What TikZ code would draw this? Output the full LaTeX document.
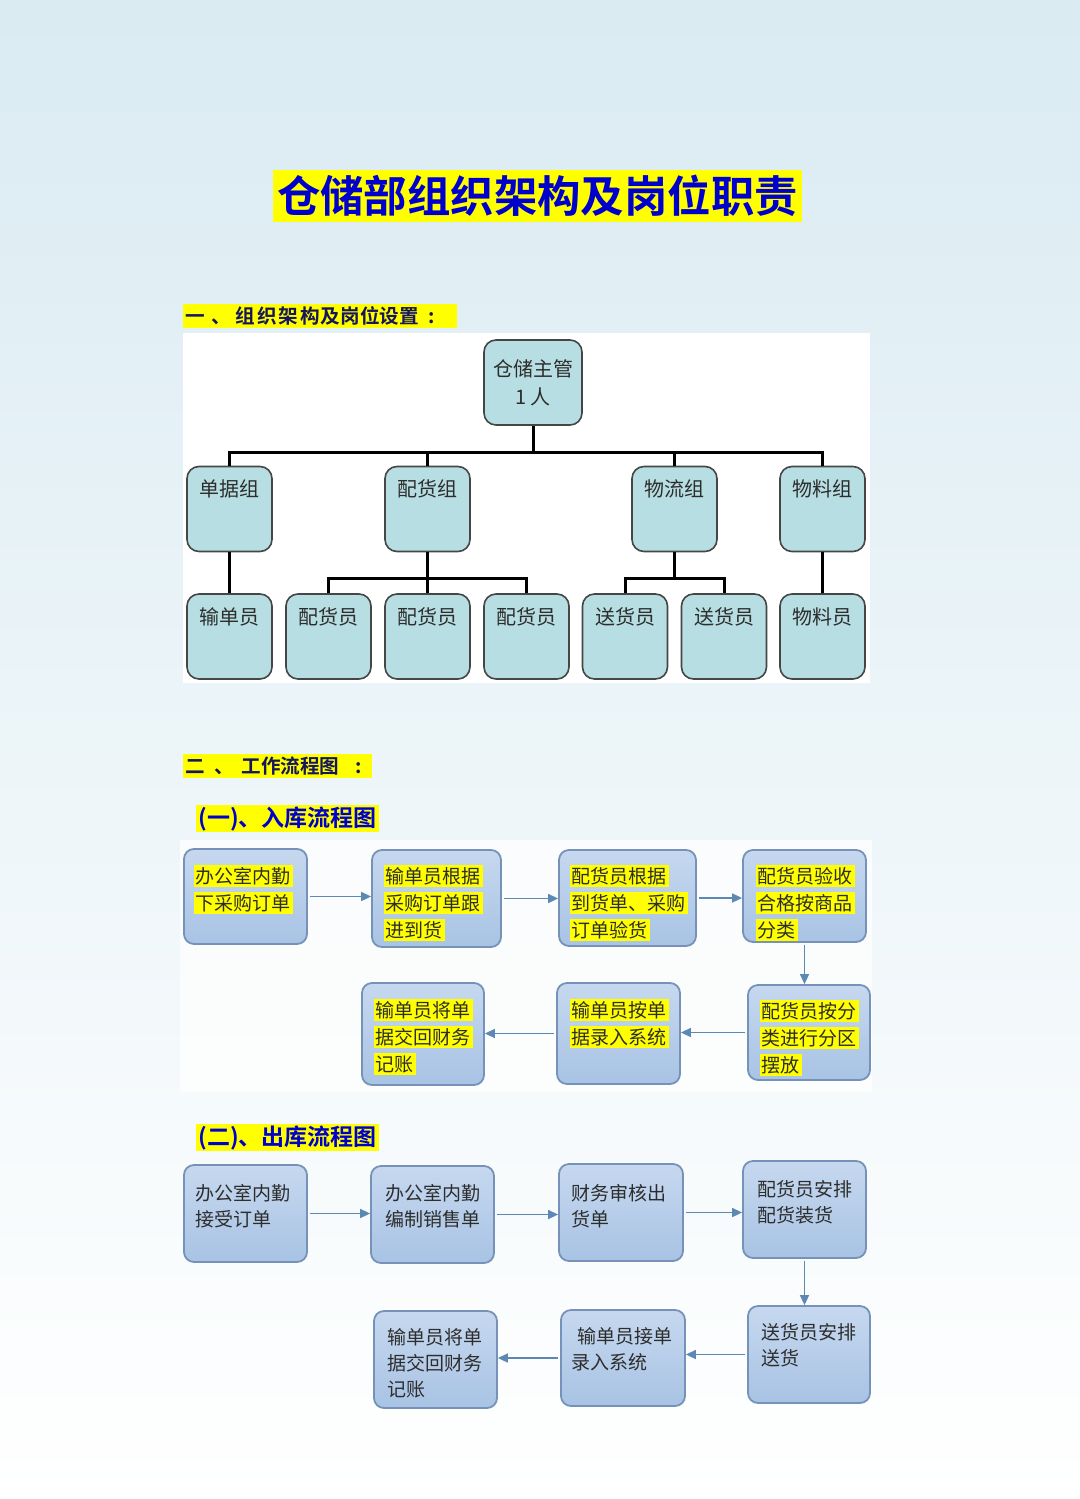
\documentclass[tikz,border=0pt]{standalone}
\usepackage{fontspec}
\setmainfont{Noto Sans CJK SC}[BoldFont={Noto Sans CJK SC Bold}]
\usetikzlibrary{arrows.meta}

\definecolor{huangse}{RGB}{255,255,0}
\definecolor{biaotilan}{RGB}{0,0,205}
\definecolor{shenlan}{RGB}{22,22,95}
\definecolor{qingse}{RGB}{183,222,226}
\definecolor{huibian}{RGB}{70,70,70}
\definecolor{liushang}{RGB}{198,216,239}
\definecolor{liuxia}{RGB}{168,195,228}
\definecolor{liubian}{RGB}{118,146,184}
\definecolor{jiantoulan}{RGB}{92,136,180}
\definecolor{beijing}{RGB}{218,235,242}
\definecolor{zishen}{RGB}{45,45,45}

\setlength{\fboxsep}{1pt}
\newcommand{\huang}[1]{\colorbox{huangse}{#1}}
\newcommand{\jg}[1]{\hspace{#1pt}}

\begin{document}
\begin{tikzpicture}[x=0.5pt, y=-0.5pt,
  zuzhi/.style={draw=huibian, line width=0.8pt, fill=qingse, rounded corners=6pt, minimum width=42.5pt, minimum height=42.5pt, inner sep=0pt, font=\fontsize{10pt}{14pt}\selectfont, text=zishen},
  gangwei/.style={zuzhi, text height=15pt, text depth=27.5pt},
  liucheng/.style={draw=liubian, line width=0.9pt, top color=liushang, bottom color=liuxia, rounded corners=5pt, inner sep=0pt},
  wenzi/.style={anchor=north west, align=left, inner sep=0pt, text=zishen, font=\fontsize{9.5pt}{13.5pt}\selectfont},
  chuwenzi/.style={wenzi, font=\fontsize{9.5pt}{13pt}\selectfont},
  zhixian/.style={line width=1.5pt, black},
  jiantou/.style={draw=jiantoulan, line width=0.8pt, shorten <=1pt, -{Triangle[length=5pt, width=4.5pt]}},
  xiaobiaoti/.style={fill=huangse, anchor=west, inner xsep=1pt, inner ysep=0pt, minimum height=13.5pt, text=biaotilan, font=\fontsize{11.5pt}{13pt}\selectfont\bfseries},
  dabiaoti/.style={fill=huangse, anchor=west, inner xsep=1pt, inner ysep=0pt, minimum height=12pt, align=left, text=shenlan, font=\fontsize{9.8pt}{11pt}\selectfont\bfseries}]

  \useasboundingbox (0,0) rectangle (1080,1499);
  \shade[top color=beijing, middle color=beijing!40!white, bottom color=white] (0,0) rectangle (1080,1499);

  % titel und ueberschriften
  \node[fill=huangse, minimum width=264.5pt, minimum height=26pt, inner sep=0pt, text=biaotilan, font=\fontsize{21.7pt}{24pt}\selectfont\bfseries] (biaoti) at (537.5,196) {仓储部组织架构及岗位职责};
  \node[dabiaoti, text width=135pt] (yi) at (183,316) {一\jg{3}、\jg{2.5}组\jg{1}织\jg{1}架\jg{1}构\jg{0.5}及岗位设置\jg{5}:};
  \node[dabiaoti, text width=92.5pt] (er) at (183,766) {二\jg{5}、\jg{3.5}工作流程图\jg{8}:};
  \node[xiaobiaoti] (ruku) at (196,818.5) {(一)、入库流程图};
  \node[xiaobiaoti] (chuku) at (196,1137.5) {(二)、出库流程图};

  \fill[white] (183,333) rectangle (870,683);
  \fill[white, opacity=0.75] (180,840) rectangle (872,1092);

  % zuzhi jiagou
  \node[zuzhi, minimum width=49pt, align=center] (zhuguan) at (533,382.5) {仓储主管\\1 人};
  \node[gangwei] (danju) at (229.5,509) {单据组};
  \node[gangwei] (peihuo) at (427.5,509) {配货组};
  \node[gangwei] (wuliu) at (674.5,509) {物流组};
  \node[gangwei] (wuliao) at (822.5,509) {物料组};
  \node[gangwei] (shudan) at (229.5,636.5) {输单员};
  \node[gangwei] (pei1) at (328.5,636.5) {配货员};
  \node[gangwei] (pei2) at (427.5,636.5) {配货员};
  \node[gangwei] (pei3) at (526.5,636.5) {配货员};
  \node[gangwei] (song1) at (625,636.5) {送货员};
  \node[gangwei] (song2) at (724,636.5) {送货员};
  \node[gangwei] (liaoyuan) at (822.5,636.5) {物料员};

  \coordinate (zongxian) at (533,452);
  \coordinate (fenxian) at (0,578);
  \draw[zhixian] (zhuguan.south) -- (zongxian);
  \draw[zhixian] (danju.north) -- (danju.north |- zongxian) -- (wuliao.north |- zongxian) -- (wuliao.north);
  \draw[zhixian] (peihuo.north) -- (peihuo.north |- zongxian);
  \draw[zhixian] (wuliu.north) -- (wuliu.north |- zongxian);
  \draw[zhixian] (danju.south) -- (shudan.north);
  \draw[zhixian] (wuliao.south) -- (liaoyuan.north);
  \draw[zhixian] (peihuo.south) -- (pei2.north);
  \draw[zhixian] (pei1.north) -- (pei1.north |- fenxian) -- (pei3.north |- fenxian) -- (pei3.north);
  \draw[zhixian] (wuliu.south) -- (wuliu.south |- fenxian);
  \draw[zhixian] (song1.north) -- (song1.north |- fenxian) -- (song2.north |- fenxian) -- (song2.north);

  % ruku liucheng
  \node[liucheng, minimum width=61.5pt, minimum height=47.5pt] (ru1) at (245.5,896.5) {};
  \node[liucheng, minimum width=64.5pt, minimum height=48.5pt] (ru2) at (436.5,898.5) {};
  \node[liucheng, minimum width=68.5pt, minimum height=48pt] (ru3) at (627.5,898) {};
  \node[liucheng, minimum width=61.5pt, minimum height=46pt] (ru4) at (804.5,896) {};
  \node[liucheng, minimum width=61pt, minimum height=47.5pt] (ru5) at (809,1032.5) {};
  \node[liucheng, minimum width=61.5pt, minimum height=50.5pt] (ru6) at (618.5,1033.5) {};
  \node[liucheng, minimum width=61pt, minimum height=51pt] (ru7) at (423,1034) {};
  \node[wenzi] (ru1t) at ([shift={(10,16.5)}]ru1.north west) {\huang{办公室内勤}\\\huang{下采购订单}};
  \node[wenzi] (ru2t) at ([shift={(12,15.5)}]ru2.north west) {\huang{输单员根据}\\\huang{采购订单跟}\\\huang{进到货}};
  \node[wenzi] (ru3t) at ([shift={(11,15.5)}]ru3.north west) {\huang{配货员根据}\\\huang{到货单、采购}\\\huang{订单验货}};
  \node[wenzi] (ru4t) at ([shift={(13,15.5)}]ru4.north west) {\huang{配货员验收}\\\huang{合格按商品}\\\huang{分类}};
  \node[wenzi] (ru5t) at ([shift={(12,15.5)}]ru5.north west) {\huang{配货员按分}\\\huang{类进行分区}\\\huang{摆放}};
  \node[wenzi] (ru6t) at ([shift={(13,16.5)}]ru6.north west) {\huang{输单员按单}\\\huang{据录入系统}};
  \node[wenzi] (ru7t) at ([shift={(12,16.5)}]ru7.north west) {\huang{输单员将单}\\\huang{据交回财务}\\\huang{记账}};
  \draw[jiantou] (ru1.east) -- (ru1.east -| ru2.west);
  \draw[jiantou] (ru2.east) -- (ru2.east -| ru3.west);
  \draw[jiantou] (ru3.east) -- (ru3.east -| ru4.west);
  \draw[jiantou] (ru4.south) -- (ru4.south |- ru5.north);
  \draw[jiantou] (ru5.west) -- (ru5.west -| ru6.east);
  \draw[jiantou] (ru6.west) -- (ru6.west -| ru7.east);

  % chuku liucheng
  \node[liucheng, minimum width=61.5pt, minimum height=48.5pt] (chu1) at (245.5,1213.5) {};
  \node[liucheng, minimum width=61.5pt, minimum height=48.5pt] (chu2) at (432.5,1214.5) {};
  \node[liucheng, minimum width=62pt, minimum height=48.5pt] (chu3) at (621,1212.5) {};
  \node[liucheng, minimum width=61.5pt, minimum height=48.5pt] (chu4) at (804.5,1209.5) {};
  \node[liucheng, minimum width=61pt, minimum height=48.5pt] (chu5) at (809,1354.5) {};
  \node[liucheng, minimum width=62pt, minimum height=48pt] (chu6) at (623,1358) {};
  \node[liucheng, minimum width=61.5pt, minimum height=48.5pt] (chu7) at (435.5,1359.5) {};
  \node[chuwenzi] (chu1t) at ([shift={(12,19.5)}]chu1.north west) {办公室内勤\\接受订单};
  \node[chuwenzi] (chu2t) at ([shift={(15,18.5)}]chu2.north west) {办公室内勤\\编制销售单};
  \node[chuwenzi] (chu3t) at ([shift={(13,20.5)}]chu3.north west) {财务审核出\\货单};
  \node[chuwenzi] (chu4t) at ([shift={(15,19.5)}]chu4.north west) {配货员安排\\配货装货};
  \node[chuwenzi] (chu5t) at ([shift={(14,17.5)}]chu5.north west) {送货员安排\\送货};
  \node[chuwenzi] (chu6t) at ([shift={(11,17.5)}]chu6.north west) {\hspace{3pt}输单员接单\\录入系统};
  \node[chuwenzi] (chu7t) at ([shift={(14,17.5)}]chu7.north west) {输单员将单\\据交回财务\\记账};
  \draw[jiantou] (chu1.east) -- (chu1.east -| chu2.west);
  \draw[jiantou] (chu2.east) -- (chu2.east -| chu3.west);
  \draw[jiantou] (chu3.east) -- (chu3.east -| chu4.west);
  \draw[jiantou] (chu4.south) -- (chu4.south |- chu5.north);
  \draw[jiantou] (chu5.west) -- (chu5.west -| chu6.east);
  \draw[jiantou] (chu6.west) -- (chu6.west -| chu7.east);
\end{tikzpicture}
\end{document}
